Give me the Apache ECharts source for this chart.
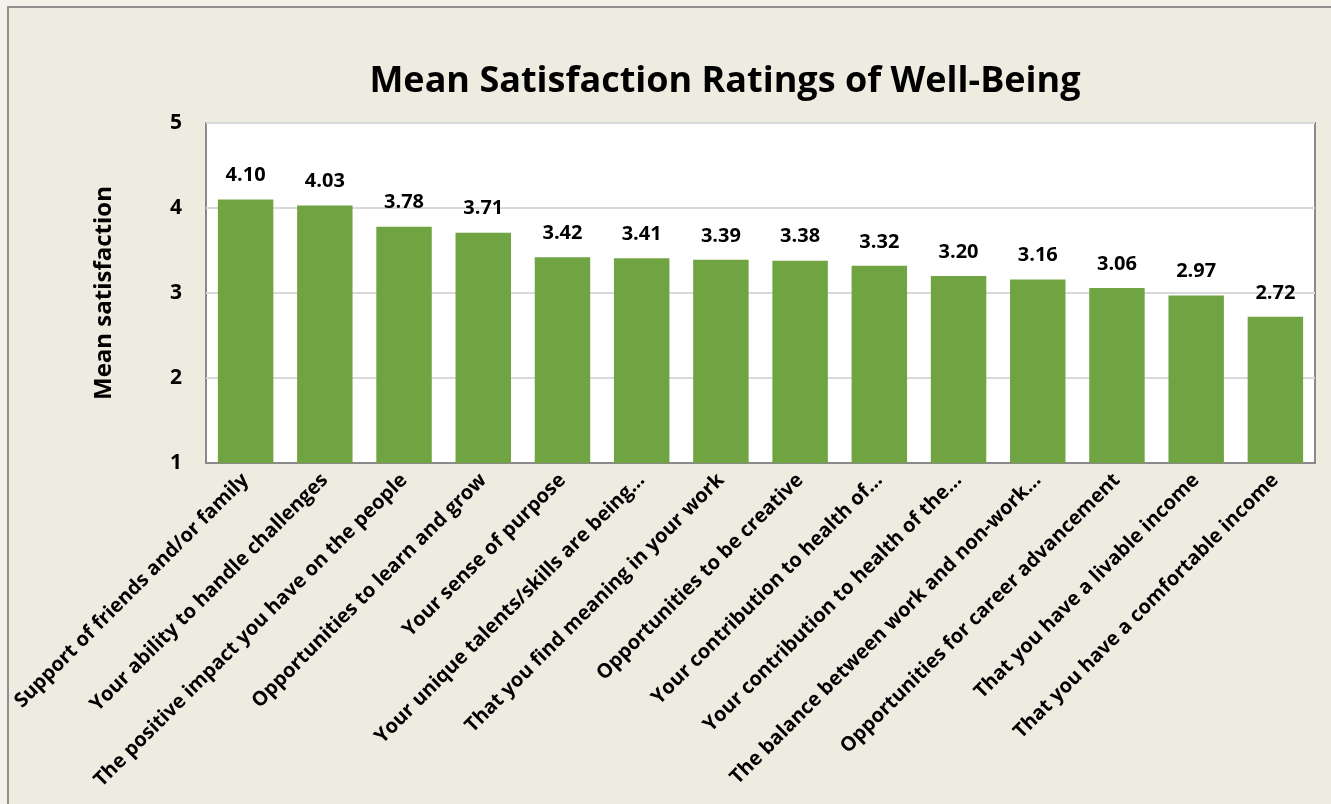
<!DOCTYPE html>
<html>
<head>
<meta charset="utf-8">
<script src="https://cdn.jsdelivr.net/npm/echarts@6/dist/echarts.min.js"></script>
<style>
  html, body { margin: 0; padding: 0; background: #f3f1ea; overflow: hidden; }
  #chart {
    position: absolute; left: 7px; top: 6px;
    width: 1330px; height: 804px;
    border-left: 2px solid #8f8f8f; border-top: 2px solid #8f8f8f;
    background: #eeebe0;
  }
</style>
</head>
<body>
<div id="chart"></div>
<script>
// well-being satisfaction means, sorted high to low
const categories = [
  'Support of friends and/or family',
  'Your ability to handle challenges',
  'The positive impact you have on the people',
  'Opportunities to learn and grow',
  'Your sense of purpose',
  'Your unique talents/skills are being…',
  'That you find meaning in your work',
  'Opportunities to be creative',
  'Your contribution to health of…',
  'Your contribution to health of the…',
  'The balance between work and non-work…',
  'Opportunities for career advancement',
  'That you have a livable income',
  'That you have a comfortable income'
]
const meanValues = [4.10, 4.03, 3.78, 3.71, 3.42, 3.41, 3.39, 3.38, 3.32, 3.20, 3.16, 3.06, 2.97, 2.72]

const font = '"Open Sans", Lato, sans-serif'
const chart = echarts.init(document.getElementById('chart'))

const option = {
  backgroundColor: '#eeebe0',
  animation: false,
  title: {
    text: 'Mean Satisfaction Ratings of Well-Being',
    left: 711,
    textAlign: 'center',
    top: 51,
    textStyle: { fontFamily: font, fontWeight: 'bold', fontSize: 36, color: '#000' }
  },
  grid: {
    left: 196, right: 24, top: 115, bottom: 349,
    show: true, backgroundColor: '#fff', borderColor: '#8a8a8a', borderWidth: 2
  },
  xAxis: {
    type: 'category',
    data: categories,
    axisTick: { show: false },
    axisLine: { lineStyle: { color: '#8a8a8a', width: 2 } },
    axisLabel: {
      interval: 0, rotate: 45, margin: 14,
      fontFamily: font, fontWeight: 'bold', fontSize: 20, color: '#000'
    }
  },
  yAxis: {
    type: 'value',
    min: 1, max: 5, interval: 1,
    name: 'Mean satisfaction',
    nameLocation: 'middle',
    nameGap: 90,
    nameTextStyle: { fontFamily: font, fontWeight: 'bold', fontSize: 24, color: '#000' },
    axisLabel: { fontFamily: font, fontWeight: 'bold', fontSize: 21, color: '#000', margin: 24 },
    splitLine: { lineStyle: { color: '#d9d9d9', width: 2 } }
  },
  series: [{
    type: 'bar',
    data: meanValues,
    barCategoryGap: '30%',
    itemStyle: { color: '#70a342' },
    label: {
      show: true, position: 'top', distance: 14,
      formatter: (p) => p.value.toFixed(2),
      fontFamily: font, fontWeight: 'bold', fontSize: 20, color: '#000'
    }
  }]
}

chart.setOption(option)
</script>
</body>
</html>
